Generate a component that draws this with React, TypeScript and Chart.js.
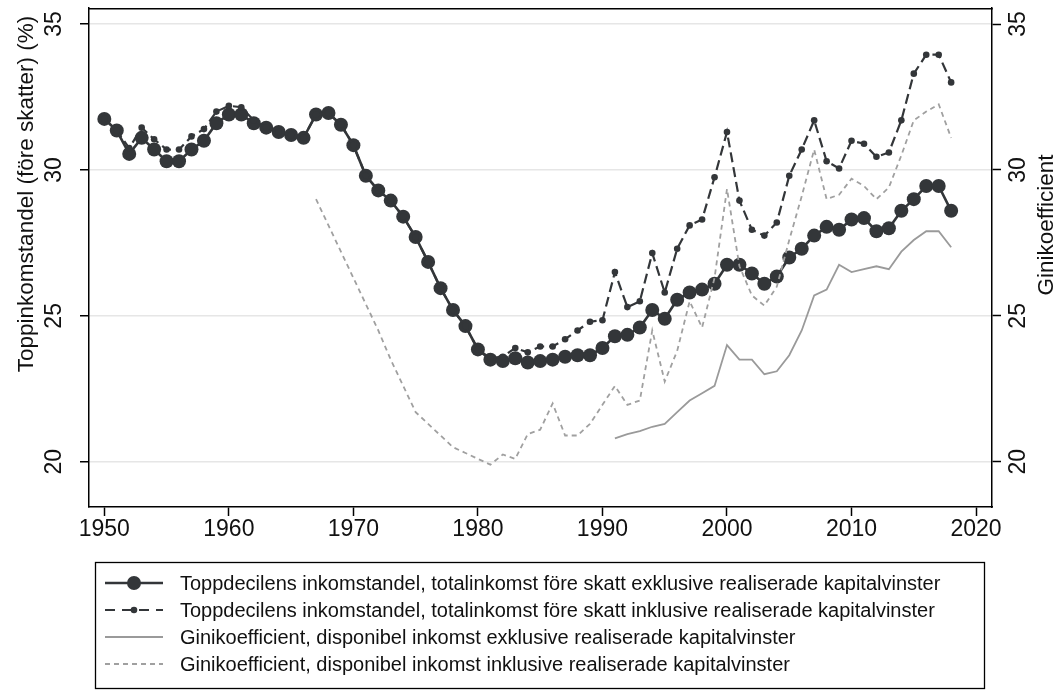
import React, { useEffect, useRef } from 'react';
import { Chart, registerables } from 'chart.js';

Chart.register(...registerables);

// ---------- data ----------
const years = [
  1950, 1951, 1952, 1953, 1954, 1955, 1956, 1957, 1958, 1959,
  1960, 1961, 1962, 1963, 1964, 1965, 1966, 1967, 1968, 1969,
  1970, 1971, 1972, 1973, 1974, 1975, 1976, 1977, 1978, 1979,
  1980, 1981, 1982, 1983, 1984, 1985, 1986, 1987, 1988, 1989,
  1990, 1991, 1992, 1993, 1994, 1995, 1996, 1997, 1998, 1999,
  2000, 2001, 2002, 2003, 2004, 2005, 2006, 2007, 2008, 2009,
  2010, 2011, 2012, 2013, 2014, 2015, 2016, 2017, 2018,
];

// Toppdecilens inkomstandel, exklusive realiserade kapitalvinster (1950-2018)
const toppExkl = [
  31.75, 31.35, 30.55, 31.1, 30.7, 30.3, 30.3, 30.7, 31.0, 31.6,
  31.9, 31.9, 31.6, 31.45, 31.3, 31.2, 31.1, 31.9, 31.95, 31.55,
  30.85, 29.8, 29.3, 28.95, 28.4, 27.7, 26.85, 25.95, 25.2, 24.65,
  23.85, 23.5, 23.45, 23.55, 23.4, 23.45, 23.5, 23.6, 23.65, 23.65,
  23.9, 24.3, 24.35, 24.6, 25.2, 24.9, 25.55, 25.8, 25.9, 26.1,
  26.75, 26.75, 26.45, 26.1, 26.35, 27.0, 27.3, 27.75, 28.05, 27.95,
  28.3, 28.35, 27.9, 28.0, 28.6, 29.0, 29.45, 29.45, 28.6,
];

// Toppdecilens inkomstandel, inklusive realiserade kapitalvinster (1950-2018)
const toppInkl = [
  31.75, 31.35, 30.75, 31.45, 31.05, 30.7, 30.7, 31.15, 31.4, 32.0,
  32.2, 32.15, 31.7, 31.45, 31.3, 31.2, 31.1, 31.9, 31.95, 31.55,
  30.85, 29.8, 29.3, 28.95, 28.4, 27.7, 26.85, 25.95, 25.2, 24.65,
  23.85, 23.55, 23.6, 23.9, 23.75, 23.95, 23.95, 24.2, 24.5, 24.8,
  24.85, 26.5, 25.3, 25.5, 27.15, 25.8, 27.3, 28.1, 28.3, 29.75,
  31.3, 28.95, 27.95, 27.75, 28.2, 29.8, 30.7, 31.7, 30.3, 30.05,
  31.0, 30.9, 30.45, 30.6, 31.7, 33.3, 33.95, 33.95, 33.0,
];

// Ginikoefficient, disponibel inkomst exklusive realiserade kapitalvinster (1991-2018)
const giniExklYears = years.slice(41);
const giniExkl = [
  20.8, 20.95, 21.05, 21.2, 21.3, 21.7, 22.1, 22.35, 22.6,
  24.0, 23.5, 23.5, 23.0, 23.1, 23.65, 24.5, 25.7, 25.9, 26.75,
  26.5, 26.6, 26.7, 26.6, 27.2, 27.6, 27.9, 27.9, 27.35,
];

// Ginikoefficient, disponibel inkomst inklusive realiserade kapitalvinster (1967-2018)
const giniInklYears = years.slice(17);
const giniInkl = [
  29.0, 28.1, 27.2,
  26.3, 25.4, 24.5, 23.5, 22.6, 21.7, 21.3, 20.9, 20.5, 20.3,
  20.1, 19.9, 20.25, 20.1, 20.95, 21.1, 22.0, 20.9, 20.9, 21.3,
  21.95, 22.6, 21.95, 22.1, 24.5, 22.75, 23.8, 25.5, 24.6, 26.3,
  29.35, 26.7, 25.7, 25.35, 26.0, 27.6, 29.1, 30.7, 29.0, 29.15,
  29.7, 29.45, 29.0, 29.4, 30.5, 31.7, 32.0, 32.25, 31.1,
];

const xTicks = [1950, 1960, 1970, 1980, 1990, 2000, 2010, 2020];
const yTicks = [20, 25, 30, 35];

const leftTitle = 'Toppinkomstandel (före skatter) (%)';
const rightTitle = 'Ginikoefficient';
const legendLabels = [
  'Toppdecilens inkomstandel, totalinkomst före skatt exklusive realiserade kapitalvinster',
  'Toppdecilens inkomstandel, totalinkomst före skatt inklusive realiserade kapitalvinster',
  'Ginikoefficient, disponibel inkomst exklusive realiserade kapitalvinster',
  'Ginikoefficient, disponibel inkomst inklusive realiserade kapitalvinster',
];

// ---------- styles ----------
const FONT = "'Liberation Sans', Arial, sans-serif";
const DARK = '#333639';
const GRAY_SOLID = '#9a9a9a';
const GRAY_DASH = '#a0a0a0';

const toPoints = (xs: number[], ys: number[]) => xs.map((x, i) => ({ x, y: ys[i] }));

const decorPlugin = {
  id: 'decor',
  afterDraw(chart: any) {
    const { ctx, chartArea } = chart;
    const ya = chart.scales.y;
    const yb = chart.scales.y2;
    ctx.save();
    // top frame line
    ctx.strokeStyle = '#000';
    ctx.lineWidth = 1.5;
    ctx.beginPath();
    ctx.moveTo(chartArea.left - 0.75, chartArea.top + 0.75);
    ctx.lineTo(chartArea.right + 0.75, chartArea.top + 0.75);
    ctx.stroke();

    // rotated y tick labels
    ctx.fillStyle = '#111';
    ctx.font = `23px ${FONT}`;
    ctx.textAlign = 'center';
    ctx.textBaseline = 'middle';
    for (const v of yTicks) {
      const p1 = ya.getPixelForValue(v);
      ctx.save();
      ctx.translate(ya.left + 55, p1);
      ctx.rotate(-Math.PI / 2);
      ctx.fillText(String(v), 0, 0);
      ctx.restore();
      const p2 = yb.getPixelForValue(v);
      ctx.save();
      ctx.translate(yb.left + 27, p2);
      ctx.rotate(-Math.PI / 2);
      ctx.fillText(String(v), 0, 0);
      ctx.restore();
    }

    // axis titles
    ctx.font = `22.5px ${FONT}`;
    ctx.save();
    ctx.translate(27, 194);
    ctx.rotate(-Math.PI / 2);
    ctx.fillText(leftTitle, 0, 0);
    ctx.restore();
    ctx.save();
    ctx.translate(1047, 225);
    ctx.rotate(-Math.PI / 2);
    ctx.fillText(rightTitle, 0, 0);
    ctx.restore();

    // legend
    const bx = 95.5, by = 562.5, bw = 889, bh = 126;
    ctx.strokeStyle = '#000';
    ctx.lineWidth = 1.3;
    ctx.strokeRect(bx, by, bw, bh);
    const rowY = [583, 610, 637, 664];
    const x0 = 105, x1 = 163, xm = 134;
    const dsets = chart.data.datasets;
    ctx.textAlign = 'left';
    ctx.font = `20px ${FONT}`;
    for (let i = 0; i < 4; i++) {
      const ds = dsets[i];
      const y = rowY[i];
      ctx.save();
      ctx.strokeStyle = ds.borderColor;
      ctx.lineWidth = ds.borderWidth;
      ctx.setLineDash(i === 1 ? [10, 7] : ds.borderDash || []);
      ctx.beginPath();
      ctx.moveTo(x0, y);
      ctx.lineTo(x1, y);
      ctx.stroke();
      ctx.setLineDash([]);
      if (ds.pointRadius > 0) {
        ctx.fillStyle = ds.pointBackgroundColor;
        ctx.beginPath();
        ctx.arc(xm, y, ds.pointRadius, 0, Math.PI * 2);
        ctx.fill();
      }
      ctx.restore();
      ctx.fillStyle = '#111';
      ctx.fillText(legendLabels[i], 180, y + 1);
    }
    ctx.restore();
  },
};

export default function App() {
  const ref = useRef<HTMLCanvasElement | null>(null);

  useEffect(() => {
    document.body.style.margin = '0';
    const canvas = ref.current;
    if (!canvas) return;
    const chart = new Chart(canvas, {
      type: 'line',
      data: {
        datasets: [
          {
            label: legendLabels[0],
            data: toPoints(years, toppExkl),
            borderColor: DARK,
            backgroundColor: DARK,
            borderWidth: 2.6,
            pointRadius: 7,
            pointBackgroundColor: DARK,
            pointBorderWidth: 0,
            yAxisID: 'y',
            order: 4,
          },
          {
            label: legendLabels[1],
            data: toPoints(years, toppInkl),
            borderColor: DARK,
            backgroundColor: DARK,
            borderWidth: 2.2,
            borderDash: [10, 5],
            pointRadius: 3.3,
            pointBackgroundColor: DARK,
            pointBorderWidth: 0,
            yAxisID: 'y',
            order: 3,
          },
          {
            label: legendLabels[2],
            data: toPoints(giniExklYears, giniExkl),
            borderColor: GRAY_SOLID,
            backgroundColor: GRAY_SOLID,
            borderWidth: 1.8,
            pointRadius: 0,
            yAxisID: 'y2',
            order: 2,
          },
          {
            label: legendLabels[3],
            data: toPoints(giniInklYears, giniInkl),
            borderColor: GRAY_DASH,
            backgroundColor: GRAY_DASH,
            borderWidth: 1.8,
            borderDash: [5, 4],
            pointRadius: 0,
            yAxisID: 'y2',
            order: 1,
          },
        ],
      },
      options: {
        animation: false,
        responsive: false,
        layout: { padding: { top: 8, left: 0, right: 0, bottom: 0 } },
        plugins: { legend: { display: false }, tooltip: { enabled: false } },
        elements: { line: { tension: 0 } },
        scales: {
          x: {
            type: 'linear',
            min: 1948.77,
            max: 2021.28,
            afterBuildTicks: (s: any) => { s.ticks = xTicks.map((v) => ({ value: v })); },
            afterFit: (s: any) => { s.height = 185; },
            ticks: {
              autoSkip: false,
              maxRotation: 0,
              minRotation: 0,
              padding: 0,
              color: '#111',
              font: { family: FONT, size: 23 },
              callback: (v: any) => String(v),
            },
            grid: {
              drawOnChartArea: false,
              drawTicks: true,
              tickLength: 9,
              tickColor: '#000',
              tickWidth: 1.5,
            },
            border: { color: '#000', width: 1.5 },
          },
          y: {
            type: 'linear',
            position: 'left',
            min: 18.45,
            max: 35.55,
            afterBuildTicks: (s: any) => { s.ticks = yTicks.map((v) => ({ value: v })); },
            afterFit: (s: any) => { s.width = 89; },
            ticks: { display: false },
            grid: {
              color: '#e6e6e6',
              lineWidth: 1.5,
              drawTicks: true,
              tickLength: 9,
              tickColor: '#000',
              tickWidth: 1.5,
            },
            border: { color: '#000', width: 1.5 },
          },
          y2: {
            type: 'linear',
            position: 'right',
            min: 18.45,
            max: 35.55,
            afterBuildTicks: (s: any) => { s.ticks = yTicks.map((v) => ({ value: v })); },
            afterFit: (s: any) => { s.width = 69; },
            ticks: { display: false },
            grid: {
              drawOnChartArea: false,
              drawTicks: true,
              tickLength: 9,
              tickColor: '#000',
              tickWidth: 1.5,
            },
            border: { color: '#000', width: 1.5 },
          },
        },
      },
      plugins: [decorPlugin],
    } as any);
    return () => chart.destroy();
  }, []);

  return (
    <div style={{ width: 1061, height: 692, position: 'relative', background: '#fff' }}>
      <canvas ref={ref} width={1061} height={692} style={{ display: 'block' }} />
    </div>
  );
}
